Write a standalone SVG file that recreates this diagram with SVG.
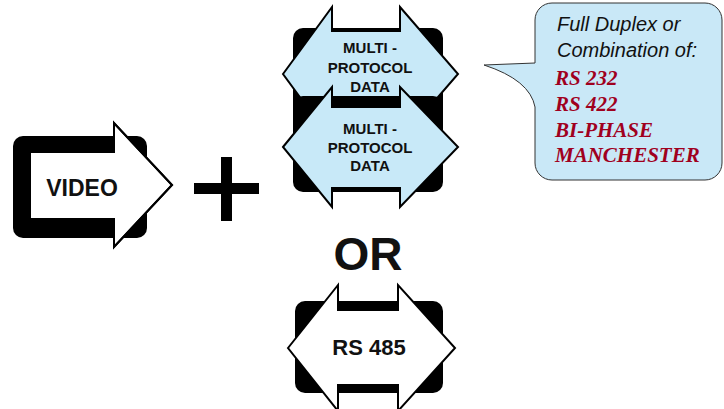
<svg xmlns="http://www.w3.org/2000/svg" width="724" height="409" viewBox="0 0 724 409">
<style>
.shadow{fill:#000}
.arrow{fill:#C8E9F8;stroke:#000;stroke-width:2;stroke-linejoin:miter}
.warrow{fill:#fff;stroke:#000;stroke-width:2}
.lbl{font-family:"Liberation Sans",Arial,sans-serif;font-weight:bold;fill:#111;text-anchor:middle}
.ctext{font-family:"Liberation Sans",Arial,sans-serif;font-style:italic;font-size:20px;fill:#111}
.rtext{font-family:"Liberation Serif","Times New Roman",serif;font-style:italic;font-weight:bold;font-size:21px;fill:#A0001E}
</style>
<rect width="724" height="409" fill="#fff"/>
<g id="video">
<rect class="shadow" x="13" y="136" width="134" height="102" rx="10"/>
<path class="warrow" d="M30,152 H114 V123 L172,185 L114,247 V219 H30 Z" stroke="none"/>
<path d="M114,152 V123 L172,185 L114,247 V219" fill="none" stroke="#000" stroke-width="2"/>
<text class="lbl" x="82" y="196" font-size="23">VIDEO</text>
</g>
<g id="plus">
<rect x="221" y="157" width="11" height="64" fill="#000"/>
<rect x="194" y="183" width="65" height="11" fill="#000"/>
</g>
<g id="multi1">
<rect class="shadow" x="293" y="28" width="150" height="92" rx="10"/>
<path class="arrow" d="M283,74 L332,7 V31 H400 V7 L458,74 L400,141 V117 H332 V141 Z"/>
<text class="lbl" x="370" y="53" font-size="15">MULTI -</text>
<text class="lbl" x="370" y="73" font-size="15">PROTOCOL</text>
<text class="lbl" x="370" y="92" font-size="15">DATA</text>
</g>
<g id="multi2">
<rect class="shadow" x="293" y="96" width="150" height="96" rx="10"/>
<path class="arrow" d="M283,147 L332,87 V107 H400 V87 L458,147 L400,207 V188 H332 V207 Z"/>
<text class="lbl" x="370" y="134" font-size="15">MULTI -</text>
<text class="lbl" x="370" y="153" font-size="15">PROTOCOL</text>
<text class="lbl" x="370" y="171" font-size="15">DATA</text>
</g>
<g id="or">
<text class="lbl" x="368" y="270" font-size="46">OR</text>
</g>
<g id="rs485">
<rect class="shadow" x="295" y="301" width="148" height="92" rx="10"/>
<path class="warrow" d="M288,348 L338,285 V310 H398 V285 L455,348 L398,411 V385 H338 V411 Z"/>
<text class="lbl" x="369" y="355" font-size="22">RS 485</text>
</g>
<g id="callout">
<path d="M552,3 H705 A17,17 0 0 1 722,20 V163 A17,17 0 0 1 705,180 H552 A17,17 0 0 1 535,163 V107 Q530,80 484,65 L535,63 V20 A17,17 0 0 1 552,3 Z" fill="#C9E8F7" stroke="#333" stroke-width="1"/>
<text class="ctext" x="557" y="31">Full Duplex or</text>
<text class="ctext" x="557" y="57">Combination of:</text>
<text class="rtext" x="555" y="85">RS 232</text>
<text class="rtext" x="555" y="111">RS 422</text>
<text class="rtext" x="555" y="137">BI-PHASE</text>
<text class="rtext" x="555" y="162">MANCHESTER</text>
</g>
</svg>
